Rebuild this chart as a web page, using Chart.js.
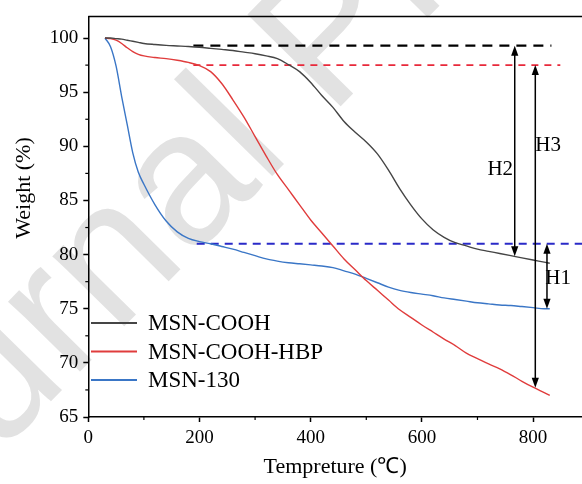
<!DOCTYPE html>
<html><head><meta charset="utf-8">
<script src="https://cdn.jsdelivr.net/npm/chart.js@4.4.0/dist/chart.umd.min.js"></script>
<style>html,body{margin:0;padding:0;background:#fff;overflow:hidden}#wrap{width:582px;height:484px}</style>
</head><body><div id="wrap"><canvas id="c" width="582" height="484"></canvas></div>
<script>
// ---- data ----
const temps       = [30,40,50,60,70,80,90,100,120,140,160,180,200,220,240,260,280,300,320,340,360,380,400,420,440,460,480,500,520,540,560,580,600,620,640,660,680,700,720,740,760,780,800,820,830];
const msnCooh     = [100,100,99.95,99.9,99.8,99.7,99.6,99.5,99.4,99.32,99.27,99.22,99.15,99.05,98.95,98.85,98.7,98.55,98.35,98.1,97.55,96.9,95.9,94.7,93.6,92.3,91.3,90.4,89.3,87.8,86.1,84.6,83.3,82.3,81.6,81.1,80.8,80.5,80.3,80.1,79.9,79.7,79.5,79.3,79.2];
const msnCoohHbp  = [100,99.95,99.8,99.5,99.1,98.75,98.5,98.35,98.2,98.1,97.95,97.75,97.45,96.9,95.8,94.3,92.7,90.9,89.1,87.4,86.0,84.6,83.2,82.0,80.8,79.6,78.6,77.6,76.7,75.8,74.9,74.2,73.5,72.85,72.2,71.6,70.9,70.4,69.9,69.45,68.9,68.3,67.75,67.25,67.0];
const msn130      = [100,99.2,97.4,94.6,92.0,89.4,87.6,86.5,84.6,83.1,82.1,81.5,81.2,81.0,80.75,80.5,80.2,79.9,79.6,79.4,79.25,79.15,79.05,78.95,78.8,78.5,78.2,77.8,77.4,77.0,76.7,76.5,76.35,76.2,76.0,75.85,75.7,75.55,75.45,75.35,75.3,75.2,75.1,75.0,75.0];
const seriesNames = ['MSN-COOH','MSN-COOH-HBP','MSN-130'];
const xTicks = [0,200,400,600,800];
const yTicks = [65,70,75,80,85,90,95,100];
const xMinor = [100,300,500,700];
const yMinor = [67.5,72.5,77.5,82.5,87.5,92.5,97.5];
// reference (dashed) levels
const refLevels = [99.3, 97.5, 81.0];
const refStart  = [189, 189, 195];
const refEnd    = [833, 849, 890];
// H arrows
const arrowLabels = ['H1','H2','H3'];
const arrowX      = [825, 767, 804];
const arrowTop    = [81.0, 99.3, 97.5];
const arrowBottom = [75.0, 79.85, 67.7];
const labelX      = [845, 741, 827];
const labelY      = [77.75, 87.9, 90.1];

const SERIF = '"Liberation Serif","Times New Roman",serif';
const lineColors = ['#454545','#e03c3c','#3a76c6'];
const dashColors = ['#000000','#e8283a','#2a2ac8'];
const dashWidths = [2.2,1.8,1.8];
const dashPatterns = [[10,7],[7,6],[8,6]];

const pts = arr => temps.map((t,i)=>({x:t,y:arr[i]}));
const mainSets = [msnCooh, msnCoohHbp, msn130].map((arr,i)=>({
  label: seriesNames[i], data: pts(arr), borderColor: lineColors[i], borderWidth: 1.4,
  showLine: true, pointRadius: 0, cubicInterpolationMode: 'monotone', inLegend: true
}));
const refSets = refLevels.map((lv,i)=>({
  label: 'ref'+i, data: [{x:refStart[i],y:lv},{x:refEnd[i],y:lv}], borderColor: dashColors[i],
  borderWidth: dashWidths[i], borderDash: dashPatterns[i], showLine: true, pointRadius: 0, inLegend: false
}));

const bgPlugin = {
  id: 'bg',
  beforeDraw(chart) {
    const ctx = chart.ctx;
    ctx.save();
    ctx.fillStyle = '#fff';
    ctx.fillRect(0,0,chart.width,chart.height);
    // watermark
    ctx.translate(278,170);
    ctx.rotate(-45.5*Math.PI/180);
    ctx.font = '190px "Liberation Sans", Arial, sans-serif';
    ctx.fillStyle = '#e2e2e2';
    ctx.textBaseline = 'alphabetic';
    const pre = ctx.measureText('Journa').width;
    const lw = ctx.measureText('l').width;
    ctx.fillText('Journal Pre-proof', -pre - lw/2, 0);
    ctx.restore();
  }
};

const decoPlugin = {
  id: 'deco',
  afterDraw(chart) {
    const ctx = chart.ctx, xs = chart.scales.x, ys = chart.scales.y, ca = chart.chartArea;
    ctx.save();
    // top border
    ctx.strokeStyle = '#000'; ctx.lineWidth = 1.5;
    ctx.beginPath(); ctx.moveTo(ca.left, ca.top); ctx.lineTo(ca.right, ca.top); ctx.stroke();
    // minor ticks
    ctx.lineWidth = 1.2;
    xMinor.forEach(v=>{ const px = xs.getPixelForValue(v); ctx.beginPath(); ctx.moveTo(px, ca.bottom); ctx.lineTo(px, ca.bottom+3); ctx.stroke(); });
    yMinor.forEach(v=>{ const py = ys.getPixelForValue(v); ctx.beginPath(); ctx.moveTo(ca.left, py); ctx.lineTo(ca.left-3, py); ctx.stroke(); });
    // y title
    ctx.save();
    ctx.translate(24, 188);
    ctx.rotate(-Math.PI/2);
    ctx.font = '22px ' + SERIF; ctx.fillStyle = '#000';
    ctx.textAlign = 'center'; ctx.textBaseline = 'middle';
    ctx.fillText('Weight (%)', 0, 0);
    ctx.restore();
    // arrows
    ctx.fillStyle = '#000'; ctx.strokeStyle = '#000';
    arrowX.forEach((xv,i)=>{
      const px = xs.getPixelForValue(xv), y1 = ys.getPixelForValue(arrowTop[i]), y2 = ys.getPixelForValue(arrowBottom[i]);
      const hl = 10, hw = 3.6;
      ctx.lineWidth = 1.5;
      ctx.beginPath(); ctx.moveTo(px, y1+hl-1); ctx.lineTo(px, y2-hl+1); ctx.stroke();
      ctx.beginPath(); ctx.moveTo(px, y1); ctx.lineTo(px-hw, y1+hl); ctx.lineTo(px+hw, y1+hl); ctx.closePath(); ctx.fill();
      ctx.beginPath(); ctx.moveTo(px, y2); ctx.lineTo(px-hw, y2-hl); ctx.lineTo(px+hw, y2-hl); ctx.closePath(); ctx.fill();
      ctx.font = '21px ' + SERIF; ctx.textAlign = 'center'; ctx.textBaseline = 'middle';
      ctx.fillText(arrowLabels[i], xs.getPixelForValue(labelX[i]), ys.getPixelForValue(labelY[i]));
    });
    // legend
    let row = 0;
    chart.data.datasets.forEach(ds=>{
      if (!ds.inLegend) return;
      const y = 323 + row*28.5;
      ctx.strokeStyle = ds.borderColor; ctx.lineWidth = 2;
      ctx.beginPath(); ctx.moveTo(91, y); ctx.lineTo(137, y); ctx.stroke();
      ctx.fillStyle = '#000'; ctx.font = '23px ' + SERIF; ctx.textAlign = 'left'; ctx.textBaseline = 'middle';
      ctx.fillText(ds.label, 148, y+1);
      row++;
    });
    ctx.restore();
  }
};

new Chart(document.getElementById('c'), {
  type: 'scatter',
  data: { datasets: [...mainSets, ...refSets] },
  options: {
    responsive: false, devicePixelRatio: 1, animation: false,
    layout: { padding: { top: 14, left: 0, right: 0, bottom: 0 } },
    plugins: { legend: { display: false }, tooltip: { enabled: false } },
    scales: {
      x: {
        type: 'linear', min: 0, max: 888,
        afterBuildTicks: s => { s.ticks = xTicks.map(v=>({value:v})); },
        afterFit: s => { s.height = 67; },
        ticks: { color: '#000', font: { family: SERIF, size: 19 }, padding: 5, maxRotation: 0, autoSkip: false },
        grid: { drawOnChartArea: false, drawTicks: true, tickLength: 5, tickColor: '#000', tickWidth: 1.5 },
        border: { display: true, color: '#000', width: 1.5 },
        title: { display: true, text: 'Tempreture (℃)', color: '#000', font: { family: SERIF, size: 22 }, padding: { top: 0, bottom: 4 } }
      },
      y: {
        type: 'linear', min: 65, max: 102,
        afterBuildTicks: s => { s.ticks = yTicks.map(v=>({value:v})); },
        afterFit: s => { s.width = 88.3; },
        ticks: { color: '#000', font: { family: SERIF, size: 19 }, padding: 5, autoSkip: false },
        grid: { drawOnChartArea: false, drawTicks: true, tickLength: 5, tickColor: '#000', tickWidth: 1.5 },
        border: { display: true, color: '#000', width: 1.5 }
      }
    }
  },
  plugins: [bgPlugin, decoPlugin]
});
</script></body></html>
